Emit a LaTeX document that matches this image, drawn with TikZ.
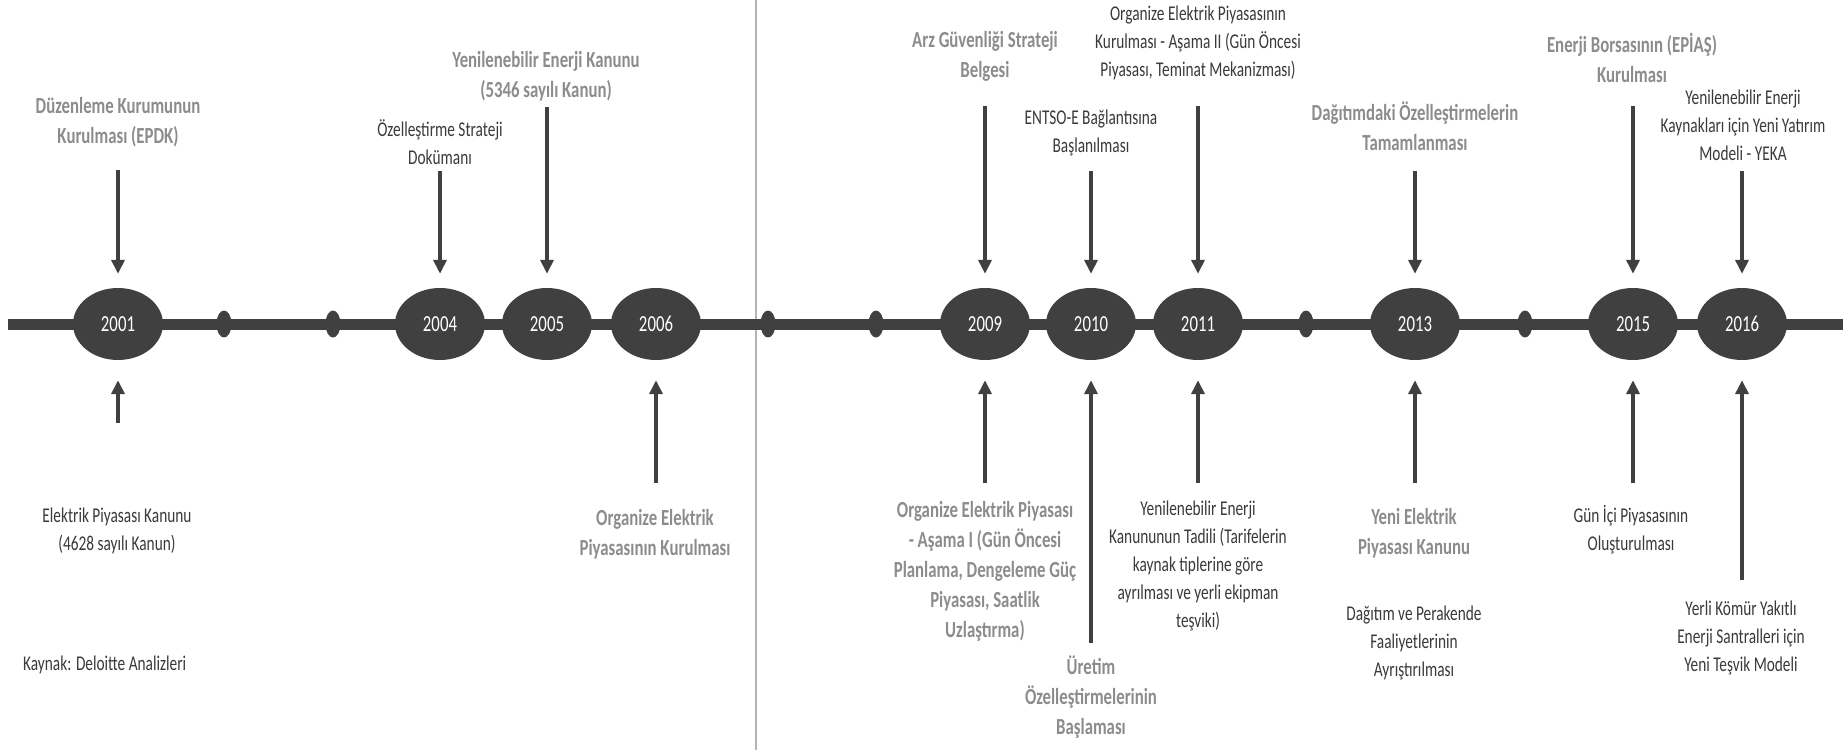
\documentclass[tikz,border=0pt]{standalone}
\usepackage{fontspec}
\setmainfont{Carlito}[FakeStretch=0.73]
\usetikzlibrary{shapes.geometric,arrows.meta}
\definecolor{tl}{HTML}{404040}
\definecolor{lbl}{HTML}{8C8C8C}
\definecolor{txt}{HTML}{3A3A3A}
\definecolor{sepc}{HTML}{B4B4B4}

\tikzset{
  yr/.style={ellipse, fill=tl, minimum width=90pt, minimum height=72pt, inner sep=0pt,
             text=white, font=\fontsize{23}{28}\selectfont},
  dot/.style={ellipse, fill=tl, minimum width=15pt, minimum height=27pt, inner sep=0pt},
  headtxt/.style={align=center, text=lbl, font=\fontsize{23}{30}\selectfont\bfseries, inner sep=0pt},
  notetxt/.style={align=center, text=txt, font=\fontsize{21}{28}\selectfont, inner sep=0pt},
  arr/.style={draw=tl, line width=3.5pt, -{Triangle[length=14pt,width=13pt]}},
  downarr/.style={arr, shorten >=14pt},
  uparr/.style={arr, shorten >=20pt},
}

\begin{document}
\begin{tikzpicture}[x=1pt,y=-1pt]
\fill[white] (0,0) rectangle (1847,750);
\useasboundingbox (0,0) rectangle (1847,750);

% divider between the two periods
\coordinate (divtop) at (756,0);
\coordinate (divbot) at (756,750);
\draw[sepc, line width=2pt] (divtop) -- (divbot);

% the time axis
\coordinate (axl) at (8,324);
\coordinate (axr) at (1843,324);
\draw[tl, line width=11pt] (axl) -- (axr);

% minor ticks
\node[dot] (d1) at (224,324) {};
\node[dot] (d2) at (333,324) {};
\node[dot] (d3) at (768,324) {};
\node[dot] (d4) at (876,324) {};
\node[dot] (d5) at (1306,324) {};
\node[dot] (d6) at (1525,324) {};

% years
\node[yr] (e2001) at (118,324) {2001};
\node[yr] (e2004) at (440,324) {2004};
\node[yr] (e2005) at (547,324) {2005};
\node[yr] (e2006) at (656,324) {2006};
\node[yr] (e2009) at (985,324) {2009};
\node[yr] (e2010) at (1091,324) {2010};
\node[yr] (e2011) at (1198,324) {2011};
\node[yr] (e2013) at (1415,324) {2013};
\node[yr] (e2015) at (1633,324) {2015};
\node[yr] (e2016) at (1742,324) {2016};

% events above the axis
\node[headtxt] (t2001) at (118,122) {Düzenleme Kurumunun\\Kurulması (EPDK)};
\node[notetxt] (t2004) at (440,142) {Özelleştirme Strateji\\Dokümanı};
\node[headtxt] (t2005) at (546,76) {Yenilenebilir Enerji Kanunu\\(5346 sayılı Kanun)};
\node[headtxt] (t2009) at (985,56) {Arz Güvenliği Strateji\\Belgesi};
\node[notetxt] (t2010) at (1091,133) {ENTSO-E Bağlantısına\\Başlanılması};
\node[notetxt] (t2011) at (1198,43) {Organize Elektrik Piyasasının\\Kurulması - Aşama II (Gün Öncesi\\Piyasası, Teminat Mekanizması)};
\node[headtxt] (t2013) at (1415,126) {Dağıtımdaki Özelleştirmelerin\\Tamamlanması};
\node[headtxt] (t2015) at (1632,58) {Enerji Borsasının (EPİAŞ)\\Kurulması};
\node[notetxt] (t2016) at (1743,125) {Yenilenebilir Enerji\\Kaynakları için Yeni Yatırım\\Modeli - YEKA};

% events below the axis
\node[notetxt] (b2001) at (117,531) {Elektrik Piyasası Kanunu\\(4628 sayılı Kanun)};
\node[notetxt, anchor=west] (src) at (23,665) {Kaynak: Deloitte Analizleri};
\node[headtxt] (b2006) at (655,534) {Organize Elektrik\\Piyasasının Kurulması};
\node[headtxt] (b2009) at (985,571) {Organize Elektrik Piyasası\\- Aşama I (Gün Öncesi\\Planlama, Dengeleme Güç\\Piyasası, Saatlik\\Uzlaştırma)};
\node[headtxt] (b2010) at (1091,697) {Üretim\\Özelleştirmelerinin\\Başlaması};
\node[notetxt] (b2011) at (1198,566) {Yenilenebilir Enerji\\Kanununun Tadili (Tarifelerin\\kaynak tiplerine göre\\ayrılması ve yerli ekipman\\teşviki)};
\node[headtxt] (b2013a) at (1414,533) {Yeni Elektrik\\Piyasası Kanunu};
\node[notetxt] (b2013b) at (1414,643) {Dağıtım ve Perakende\\Faaliyetlerinin\\Ayrıştırılması};
\node[notetxt] (b2015) at (1631,530) {Gün İçi Piyasasının\\Oluşturulması};
\node[notetxt] (b2016) at (1741,638) {Yerli Kömür Yakıtlı\\Enerji Santralleri için\\Yeni Teşvik Modeli};

% arrow tails
\coordinate (a2001) at (118,170);
\coordinate (a2004) at (440,171);
\coordinate (a2005) at (547,107);
\coordinate (a2009) at (985,106);
\coordinate (a2010) at (1091,171);
\coordinate (a2011) at (1198,106);
\coordinate (a2013) at (1415,171);
\coordinate (a2015) at (1633,106);
\coordinate (a2016) at (1742,171);

\coordinate (c2001) at (118,423);
\coordinate (c2006) at (656,483);
\coordinate (c2009) at (985,483);
\coordinate (c2010) at (1091,643);
\coordinate (c2011) at (1198,483);
\coordinate (c2013) at (1415,483);
\coordinate (c2015) at (1633,483);
\coordinate (c2016) at (1742,580);

% arrows pointing down onto the axis
\foreach \y in {2001,2004,2005,2009,2010,2011,2013,2015,2016}
  \draw[downarr] (a\y) -- (e\y);

% arrows pointing up onto the axis
\foreach \y in {2001,2006,2009,2010,2011,2013,2015,2016}
  \draw[uparr] (c\y) -- (e\y);
\end{tikzpicture}
\end{document}
